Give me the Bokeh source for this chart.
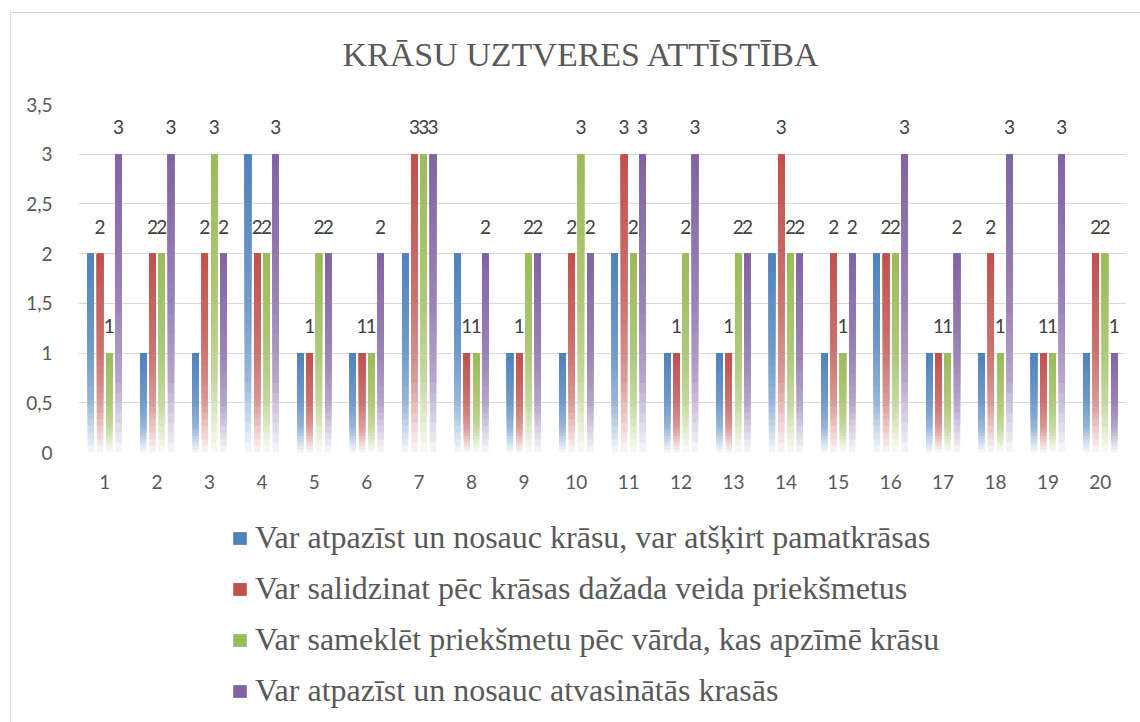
from bokeh.plotting import figure
from bokeh.models import (ColumnDataSource, FactorRange, Range1d, Legend, LegendItem,
                          LabelSet, FixedTicker, InlineStyleSheet)
from bokeh.layouts import column
from bokeh.transform import dodge
from bokeh.core.properties import value
from bokeh.embed import file_html
from bokeh.resources import INLINE

# ---------------- data ----------------
categories = [str(i) for i in range(1, 21)]
series_names = [
    "Var atpazīst un nosauc krāsu, var atšķirt pamatkrāsas",
    "Var salidzinat pēc krāsas dažada veida priekšmetus",
    "Var sameklēt priekšmetu pēc vārda, kas apzīmē krāsu",
    "Var atpazīst un nosauc atvasinātās krasās",
]
s1 = [2, 1, 1, 3, 1, 1, 2, 2, 1, 1, 2, 1, 1, 2, 1, 2, 1, 1, 1, 1]
s2 = [2, 2, 2, 2, 1, 1, 3, 1, 1, 2, 3, 1, 1, 3, 2, 2, 1, 2, 1, 2]
s3 = [1, 2, 3, 2, 2, 1, 3, 1, 2, 3, 2, 2, 2, 2, 1, 2, 1, 1, 1, 2]
s4 = [3, 3, 2, 3, 2, 2, 3, 2, 2, 2, 3, 3, 2, 2, 2, 3, 2, 3, 3, 1]
labelled = [False, True, True, True]
y_ticks = [0, 0.5, 1, 1.5, 2, 2.5, 3, 3.5]
y_tick_labels = ["0", "0,5", "1", "1,5", "2", "2,5", "3", "3,5"]
title_text = "KRĀSU UZTVERES ATTĪSTĪBA"

# ---------------- styles ----------------
colors = ["#4F81BD", "#C0504D", "#9BBB59", "#8064A2"]
offsets = [-0.2655, -0.0885, 0.0885, 0.2655]
bar_w = 0.12
text_col = "#595959"
N_BANDS = 30


def whiten(f):
    # fraction of white mixed in, f = relative height inside the bar (0 bottom, 1 top)
    pts = [(0.0, 0.95), (0.25, 0.42), (0.5, 0.2), (1.0, 0.0)]
    for (x0, y0), (x1, y1) in zip(pts[:-1], pts[1:]):
        if x0 <= f <= x1:
            return y0 + (y1 - y0) * (f - x0) / (x1 - x0)
    return 0.0


def mix(hexcol, w):
    r, g, b = (int(hexcol[i:i + 2], 16) for i in (1, 3, 5))
    r = round(r + (255 - r) * w)
    g = round(g + (255 - g) * w)
    b = round(b + (255 - b) * w)
    return "#%02x%02x%02x" % (r, g, b)


top_border = InlineStyleSheet(css="""
:host::after {
  content: '';
  position: absolute;
  left: 10px; top: 12px; right: -4px; bottom: -300px;
  border: 1px solid #d9d9d9;
  pointer-events: none;
}
""")
side_border = InlineStyleSheet(css="""
:host::after {
  content: '';
  position: absolute;
  left: 10px; top: -2px; bottom: -4px; width: 0px;
  border-left: 1px solid #d9d9d9;
  pointer-events: none;
}
""")

# ---------------- main chart ----------------
p = figure(x_range=FactorRange(*categories), y_range=Range1d(0, 3.5),
           width=1140, height=500, output_backend="svg", toolbar_location=None,
           min_border_left=78, min_border_right=14, min_border_top=104,
           min_border_bottom=48, title=title_text, stylesheets=[top_border])
p.outline_line_color = None
p.background_fill_color = "white"
p.border_fill_color = "white"

p.title.align = "left"
p.title.offset = 264
p.title.standoff = 63
p.title.text_font = "Liberation Serif"
p.title.text_font_size = "34px"
p.title.text_font_style = "normal"
p.title.text_color = text_col

p.xgrid.visible = False
p.ygrid.ticker = FixedTicker(ticks=y_ticks)
p.ygrid.grid_line_color = "#d9d9d9"
p.ygrid.grid_line_width = 1

p.yaxis.ticker = FixedTicker(ticks=y_ticks)
p.yaxis.major_label_overrides = {t: l for t, l in zip(y_ticks, y_tick_labels)}
for ax in (p.xaxis[0], p.yaxis[0]):
    ax.axis_line_color = None
    ax.major_tick_line_color = None
    ax.minor_tick_line_color = None
    ax.major_label_text_font = "Lato"
    ax.major_label_text_font_size = "19px"
    ax.major_label_text_color = text_col
p.xaxis.major_label_standoff = 16
p.yaxis.major_label_standoff = 20

# ---------------- legend panel ----------------
pl = figure(x_range=Range1d(0, 1), y_range=Range1d(0, 1), width=1140, height=222,
            output_backend="svg", toolbar_location=None, x_axis_location=None,
            y_axis_location=None, min_border=0, stylesheets=[side_border])
pl.outline_line_color = None
pl.grid.visible = False
pl.background_fill_color = "white"
pl.border_fill_color = "white"

all_series = [s1, s2, s3, s4]
legend_items = []
for k, vals in enumerate(all_series):
    xs, bottoms, tops, cols = [], [], [], []
    for j in range(N_BANDS):
        f = (j + 0.5) / N_BANDS
        c = mix(colors[k], whiten(f))
        for cat, v in zip(categories, vals):
            xs.append(cat)
            bottoms.append(v * j / N_BANDS)
            tops.append(v)
            cols.append(c)
    src = ColumnDataSource(dict(x=xs, bottom=bottoms, top=tops, color=cols))
    p.vbar(x=dodge("x", offsets[k], range=p.x_range), bottom="bottom", top="top",
           width=bar_w, fill_color="color", line_color=None, source=src)

    # legend proxy (one point, outside the visible range)
    proxy = pl.vbar(x=[-5], top=[-5], bottom=[-6], width=0.1,
                    fill_color=colors[k], line_color=None)
    legend_items.append(LegendItem(label=series_names[k], renderers=[proxy]))

    if labelled[k]:
        lsrc = ColumnDataSource(dict(x=categories, y=vals, t=[str(v) for v in vals]))
        p.add_layout(LabelSet(x=dodge("x", offsets[k], range=p.x_range), y="y", text="t",
                              y_offset=27, source=lsrc, text_align="center",
                              text_baseline="middle", text_font=value("Lato"),
                              text_font_size=value("19px"), text_color=value("#404040")))

legend = Legend(items=legend_items, location=(153, 13), orientation="vertical")
legend.padding = 0
legend.margin = 0
legend.border_line_color = None
legend.background_fill_alpha = 0
legend.label_text_font = "Liberation Serif"
legend.label_text_font_size = "32px"
legend.label_text_color = text_col
legend.glyph_width = 17
legend.glyph_height = 16
legend.label_standoff = 7
legend.spacing = 14
pl.add_layout(legend, "center")

layout = column(p, pl, spacing=0)
open("out.html", "w").write(file_html(layout, INLINE))
